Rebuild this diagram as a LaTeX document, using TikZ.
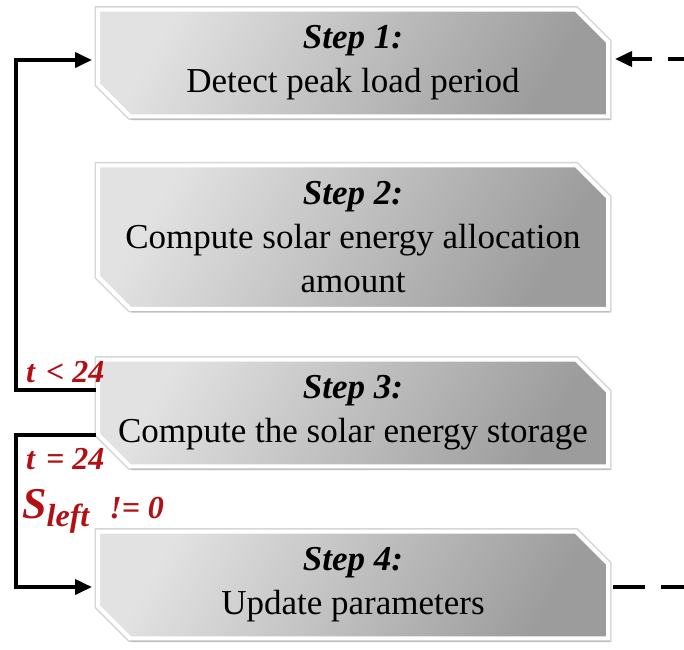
\documentclass[tikz,border=0pt]{standalone}
\usepackage{fontspec}
\setmainfont{Liberation Serif}
\usetikzlibrary{shapes.misc,arrows.meta,shadows}

\definecolor{labelred}{RGB}{178,16,20}
\definecolor{boxlight}{RGB}{226,226,226}
\definecolor{boxdark}{RGB}{156,156,156}

\tikzset{
  stepbox/.style={
    chamfered rectangle,
    chamfered rectangle corners={north east,south west},
    chamfered rectangle xsep=16pt,
    chamfered rectangle ysep=16pt,
    top color=boxlight, bottom color=boxdark, shading angle=60,
    preaction={draw=black!16, line width=7pt},
    draw=white, line width=4pt,
    drop shadow={shadow xshift=2pt,shadow yshift=-4pt,opacity=0.16,fill=black!70},
    align=center, inner sep=0pt,
    minimum width=510pt,
    font=\fontsize{35}{44}\selectfont
  },
  flow/.style={line width=3.8pt, line join=miter,
    -{Triangle[length=17pt,width=15pt]}},
  dashflow/.style={line width=3.8pt, dash pattern=on 32pt off 16pt},
  cond/.style={text=labelred, font=\fontsize{32}{32}\selectfont\bfseries\itshape,
    inner sep=0pt}
}

\begin{document}
\begin{tikzpicture}[x=1pt,y=-1pt]
  \useasboundingbox (0,0) rectangle (684,649);

  % the four steps
  \node[stepbox, minimum height=104pt] (s1) at (353,63)
    {\textbf{\textit{Step 1:}}\\Detect peak load period};
  \node[stepbox, minimum height=132pt] (s2) at (353,237)
    {\textbf{\textit{Step 2:}}\\Compute solar energy allocation\\amount};
  \node[stepbox, minimum height=104pt] (s3) at (353,413)
    {\textbf{\textit{Step 3:}}\\Compute the solar energy storage};
  \node[stepbox, minimum height=100pt] (s4) at (353,585)
    {\textbf{\textit{Step 4:}}\\Update parameters};

  % corner points of the two loops on the left
  \coordinate (upper) at (16,200);
  \coordinate (lower) at (16,520);

  % t < 24: back to step 1
  \draw[flow, shorten >=4pt] ([yshift=23pt]s3.west) -| (upper) |- ([yshift=3pt]s1.west);
  % t = 24 and S_left != 0: on to step 4
  \draw[flow, shorten >=4pt] ([yshift=-22pt]s3.west) -| (lower) |- ([yshift=-2pt]s4.west);

  % dashed links at the right edge
  \coordinate (outtop) at (700,59);
  \coordinate (outbot) at (700,587);
  \draw[dashflow, shorten <=3pt] ([yshift=-2pt]s4.east) -- (outbot);
  \draw[dashflow, -{Triangle[length=17pt,width=15pt]}, shorten >=5pt]
    (outtop) -- ([yshift=4pt]s1.east);

  % conditions
  \node[cond, anchor=base west] (lt) at (26,382) {t\hspace{3pt} < 24};
  \node[cond, anchor=base west] (eq) at (26,469) {t\hspace{3pt} = 24};
  \node[cond, anchor=base west] (sl) at (22,518)
    {{\fontsize{44}{44}\selectfont S}\raisebox{-8pt}{left}\hspace{20pt}!= 0};
\end{tikzpicture}
\end{document}
